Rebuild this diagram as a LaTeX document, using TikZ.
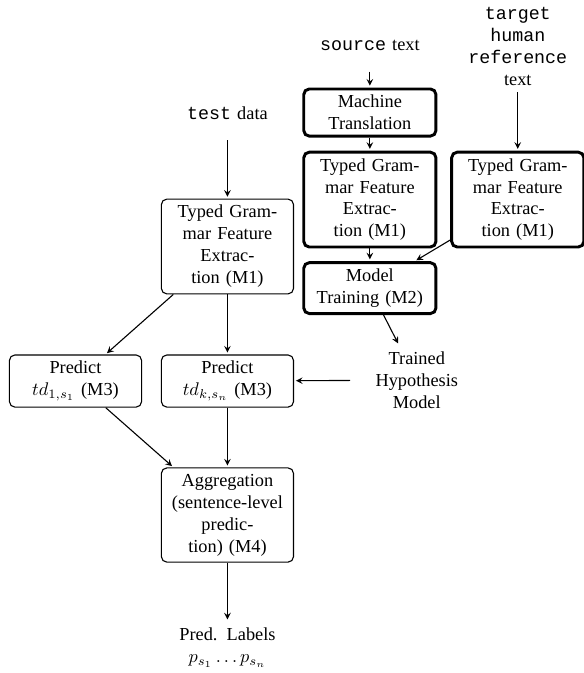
\documentclass[tikz,border=0pt]{standalone}
\usepackage{fontspec}
\setmainfont{Liberation Serif}
\setmonofont{Liberation Mono}
\usetikzlibrary{positioning}

\begin{document}
\begin{tikzpicture}[>=stealth, shorten >=1pt, node distance=2.55cm, on grid,
					auto, semithick, proc/.style={draw, rounded corners=3pt, text width=2.3cm, align=center},
					mtproc/.style={proc, line width=1.6pt},
					io/.style={text width=2.3cm, align=center, minimum height=1cm}]
					\useasboundingbox (-124.1pt,134.5pt) rectangle (194.5pt,-232.7pt);
					
					%Teste:
					\node[proc]   (m1test)                              {Typed Grammar Feature Extraction (M1)};
					\node[io]     (testdata)[above=of m1test]           {\texttt{test} data};
					\node[proc]   (predk)   [below=73.4pt of m1test]    {Predict $td_{k,s_n}$ (M3)};
					\node[proc]   (pred1)   [left=82.9pt of predk]      {Predict $td_{1,s_1}$ (M3)};
					\node[proc]   (agg)     [below=73.1pt of predk]     {Aggregation (sentence-level prediction) (M4)};
					\node[io]     (labels)  [below=72.5pt of agg]       {Pred. Labels\\ $p_{s_1}\dots p_{s_n}$};
					
					%Treino:
					\node[mtproc] (mt)      [above right=73.1pt and 77.7pt of m1test] {Machine Translation};
					\node[io]     (source)  [above=36.8pt of mt]        {\texttt{source} text};
					\node[mtproc] (m1src)   [below=47.5pt of mt]        {Typed Grammar Feature Extraction (M1)};
					\node[mtproc] (train)   [below=48.3pt of m1src]     {Model Training (M2)};
					\node[mtproc] (m1ref)   [right=80.7pt of m1src]     {Typed Grammar Feature Extraction (M1)};
					\node[io]     (target)  [above=83.7pt of m1ref]     {\texttt{target human reference} text};
					\node[io]     (trained) [below right=50.2pt and 25.6pt of train] {Trained Hypothesis Model};
					
					\path[->]
					%(Partida) edge (Destino)
					(testdata) edge (m1test)
					(m1test)   edge (pred1)
					(m1test)   edge (predk)
					(pred1)    edge (agg)
					(predk)    edge (agg)
					(agg)      edge (labels)
					(source)   edge (mt)
					(mt)       edge (m1src)
					(m1src)    edge (train)
					(target)   edge (m1ref)
					(m1ref)    edge (train)
					(train)    edge (trained)
					(trained)  edge (predk);
				\end{tikzpicture}
\end{document}
